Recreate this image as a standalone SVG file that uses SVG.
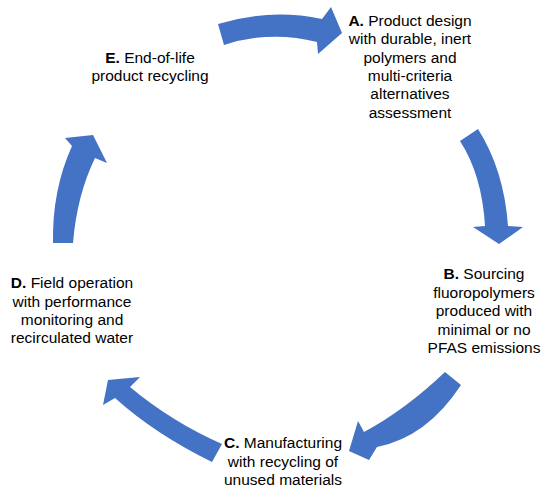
<svg xmlns="http://www.w3.org/2000/svg" width="550" height="501" viewBox="0 0 550 501">
<style>
.arr{fill:#4472C4;stroke:none}
.t{font-family:"Liberation Sans",Arial,sans-serif;font-size:15.5px;fill:#000;text-anchor:middle}
.b{font-weight:bold}
</style>
<rect width="550" height="501" fill="#fff"/>
<g id="connectors">
<path class="arr" d="M218,24 Q270,8 322,19 L331,7 L342,33 L318,54 L317,42 Q270,30 224,45 Z"/>
<path class="arr" d="M460,141 Q482,175 485,226 L473,227 L499,244 L523,227 L508,226 Q504,170 478,129 Z"/>
<path class="arr" d="M445,372 Q405,410 364,432 L358,421 L349,451 L369,460 L377,447 Q427,437 461,385 Z"/>
<path class="arr" d="M222,444 Q172,422 130,387 L140,377 L108,380 L103,405 L115,398 Q155,434 212,462 Z"/>
<path class="arr" d="M53,243 Q52,190 72,146 L65,138 L93,135 L107,163 L95,158 Q77,195 73,243 Z"/>
</g>
<g id="nodeA">
<text class="t" x="410" y="26"><tspan class="b">A.</tspan> Product design</text>
<text class="t" x="410" y="44.3">with durable, inert</text>
<text class="t" x="410" y="62.6">polymers and</text>
<text class="t" x="410" y="80.9">multi-criteria</text>
<text class="t" x="410" y="99.2">alternatives</text>
<text class="t" x="410" y="117.5">assessment</text>
</g>
<g id="nodeB">
<text class="t" x="484" y="279"><tspan class="b">B.</tspan> Sourcing</text>
<text class="t" x="484" y="297.5">fluoropolymers</text>
<text class="t" x="484" y="316">produced with</text>
<text class="t" x="484" y="334.5">minimal or no</text>
<text class="t" x="484" y="353">PFAS emissions</text>
</g>
<g id="nodeC">
<text class="t" x="283" y="448"><tspan class="b">C.</tspan> Manufacturing</text>
<text class="t" x="283" y="466.5">with recycling of</text>
<text class="t" x="283" y="485">unused materials</text>
</g>
<g id="nodeD">
<text class="t" x="72" y="288.3"><tspan class="b">D.</tspan> Field operation</text>
<text class="t" x="72" y="306.7">with performance</text>
<text class="t" x="72" y="325">monitoring and</text>
<text class="t" x="72" y="343.4">recirculated water</text>
</g>
<g id="nodeE">
<text class="t" x="150" y="63"><tspan class="b">E.</tspan> End-of-life</text>
<text class="t" x="150" y="81">product recycling</text>
</g>
</svg>
